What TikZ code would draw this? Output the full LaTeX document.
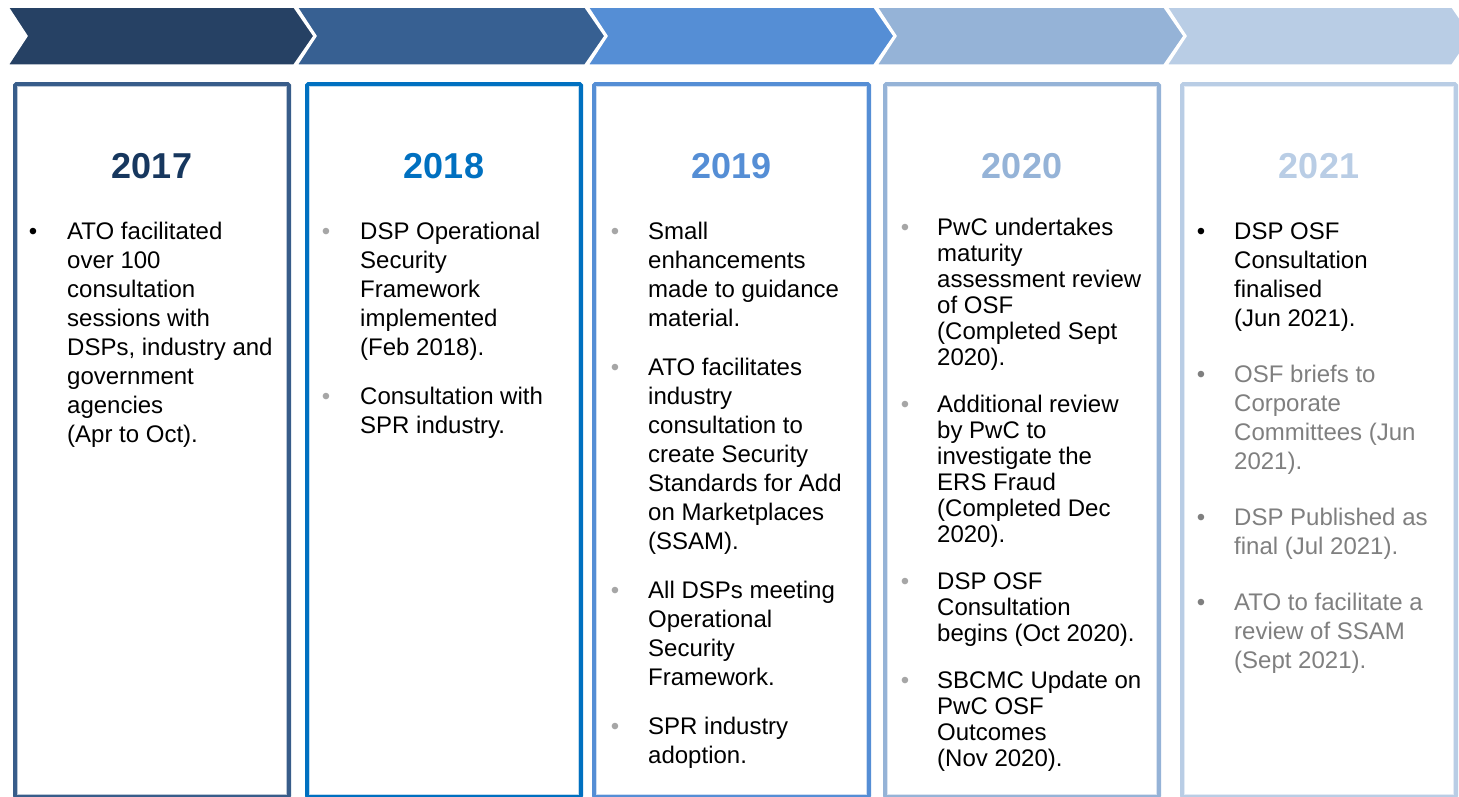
\documentclass[tikz,border=0pt]{standalone}
\usepackage{fontspec}
\setmainfont{Liberation Sans}
\newcommand\flstrut{\rule{0pt}{20pt}}
\definecolor{navyA}{RGB}{38,65,100}
\definecolor{navyB}{RGB}{55,96,146}
\definecolor{blueC}{RGB}{85,142,213}
\definecolor{blueD}{RGB}{149,179,215}
\definecolor{blueE}{RGB}{185,205,229}
\definecolor{frameA}{RGB}{56,93,138}
\definecolor{frameB}{RGB}{0,112,192}
\definecolor{yearA}{RGB}{23,55,94}
\definecolor{dotgray}{RGB}{166,166,166}
\definecolor{txtgray}{RGB}{127,127,127}
\tikzset{
  chev/.style={draw=white, line width=1.5pt, line join=miter},
  frame/.style={line width=4pt, rounded corners=1.5pt},
  innerline/.style={line width=0.8pt},
  year/.style={inner sep=0pt, font=\fontsize{36}{40}\selectfont\bfseries},
  body/.style={anchor=north west, inner sep=0pt, align=left, font=\fontsize{24}{29}\selectfont},
  tight/.style={font=\fontsize{24}{26}\selectfont},
  bul/.style={anchor=base, inner sep=0pt, font=\fontsize{24}{29}\selectfont},
}
\begin{document}
\begin{tikzpicture}[x=1pt,y=-1pt]
\path[use as bounding box] (0,0) rectangle (1459,796);
\clip (0,0) rectangle (1459,796);

% process chevrons
\fill[navyA, chev] (8,7) -- (294,7) -- (314,36) -- (294,65) -- (8,65) -- (27,36) -- cycle;
\fill[navyB, chev] (297,7) -- (585,7) -- (605,36) -- (585,65) -- (297,65) -- (316,36) -- cycle;
\fill[blueC, chev] (588,7) -- (874,7) -- (894,36) -- (874,65) -- (588,65) -- (607,36) -- cycle;
\fill[blueD, chev] (877,7) -- (1164,7) -- (1184,36) -- (1164,65) -- (877,65) -- (896,36) -- cycle;
\fill[blueE, chev] (1167,7) -- (1452,7) -- (1472,36) -- (1452,65) -- (1167,65) -- (1186,36) -- cycle;

% year frames (their lower edge runs off the page)
\draw[frame, frameA] (15,84) rectangle (289,797);
\draw[innerline, frameA!35] (17.6,86.6) rectangle (286.4,794.4);
\draw[frame, frameB] (307,84) rectangle (581,797);
\draw[innerline, frameB!25] (309.6,86.6) rectangle (578.4,794.4);
\draw[frame, blueC] (594,84) rectangle (869,797);
\draw[innerline, blueC!30] (596.6,86.6) rectangle (866.4,794.4);
\draw[frame, blueD] (885,84) rectangle (1159,797);
\draw[innerline, blueD!35] (887.6,86.6) rectangle (1156.4,794.4);
\draw[frame, blueE] (1182,84) rectangle (1456,797);
\draw[innerline, blueE!40] (1184.6,86.6) rectangle (1453.4,794.4);

% years
\node[year, text=yearA] (y17) at (152,166) {2017};
\node[year, text=frameB] (y18) at (444,166) {2018};
\node[year, text=blueC] (y19) at (731.5,166) {2019};
\node[year, text=blueD] (y20) at (1022,166) {2020};
\node[year, text=blueE] (y21) at (1319,166) {2021};

% 2017
\node[bul] (b17a) at (33,239) {•};
\node[body] (t17a) at (67,219) {\flstrut ATO facilitated\\over 100\\consultation\\sessions with\\DSPs, industry and\\government\\agencies\\(Apr to Oct).};

% 2018
\node[bul, text=dotgray] (b18a) at (326,239) {•};
\node[body] (t18a) at (360,219) {\flstrut DSP Operational\\Security\\Framework\\implemented\\(Feb 2018).};
\node[bul, text=dotgray] (b18b) at (326,404) {•};
\node[body] (t18b) at (360,384) {\flstrut Consultation with\\SPR industry.};

% 2019
\node[bul, text=dotgray] (b19a) at (615,239) {•};
\node[body] (t19a) at (648,219) {\flstrut Small\\enhancements\\made to guidance\\material.};
\node[bul, text=dotgray] (b19b) at (615,375) {•};
\node[body] (t19b) at (648,355) {\flstrut ATO facilitates\\industry\\consultation to\\create Security\\Standards for Add\\on Marketplaces\\(SSAM).};
\node[bul, text=dotgray] (b19c) at (615,598) {•};
\node[body] (t19c) at (648,578) {\flstrut All DSPs meeting\\Operational\\Security\\Framework.};
\node[bul, text=dotgray] (b19d) at (615,734) {•};
\node[body] (t19d) at (648,714) {\flstrut SPR industry\\adoption.};

% 2020
\node[bul, text=dotgray] (b20a) at (905,235) {•};
\node[body, tight] (t20a) at (937,215) {\flstrut PwC undertakes\\maturity\\assessment review\\of OSF\\(Completed Sept\\2020).};
\node[bul, text=dotgray] (b20b) at (905,412) {•};
\node[body, tight] (t20b) at (937,392) {\flstrut Additional review\\by PwC to\\investigate the\\ERS Fraud\\(Completed Dec\\2020).};
\node[bul, text=dotgray] (b20c) at (905,589) {•};
\node[body, tight] (t20c) at (937,569) {\flstrut DSP OSF\\Consultation\\begins (Oct 2020).};
\node[bul, text=dotgray] (b20d) at (905,688) {•};
\node[body, tight] (t20d) at (937,668) {\flstrut SBCMC Update on\\PwC OSF\\Outcomes\\(Nov 2020).};

% 2021
\node[bul] (b21a) at (1201,239) {•};
\node[body] (t21a) at (1234,219) {\flstrut DSP OSF\\Consultation\\finalised\\(Jun 2021).};
\node[bul, text=txtgray] (b21b) at (1201,382) {•};
\node[body, text=txtgray] (t21b) at (1234,362) {\flstrut OSF briefs to\\Corporate\\Committees (Jun\\2021).};
\node[bul, text=txtgray] (b21c) at (1201,525) {•};
\node[body, text=txtgray] (t21c) at (1234,505) {\flstrut DSP Published as\\final (Jul 2021).};
\node[bul, text=txtgray] (b21d) at (1201,610) {•};
\node[body, text=txtgray] (t21d) at (1234,590) {\flstrut ATO to facilitate a\\review of SSAM\\(Sept 2021).};
\end{tikzpicture}
\end{document}
